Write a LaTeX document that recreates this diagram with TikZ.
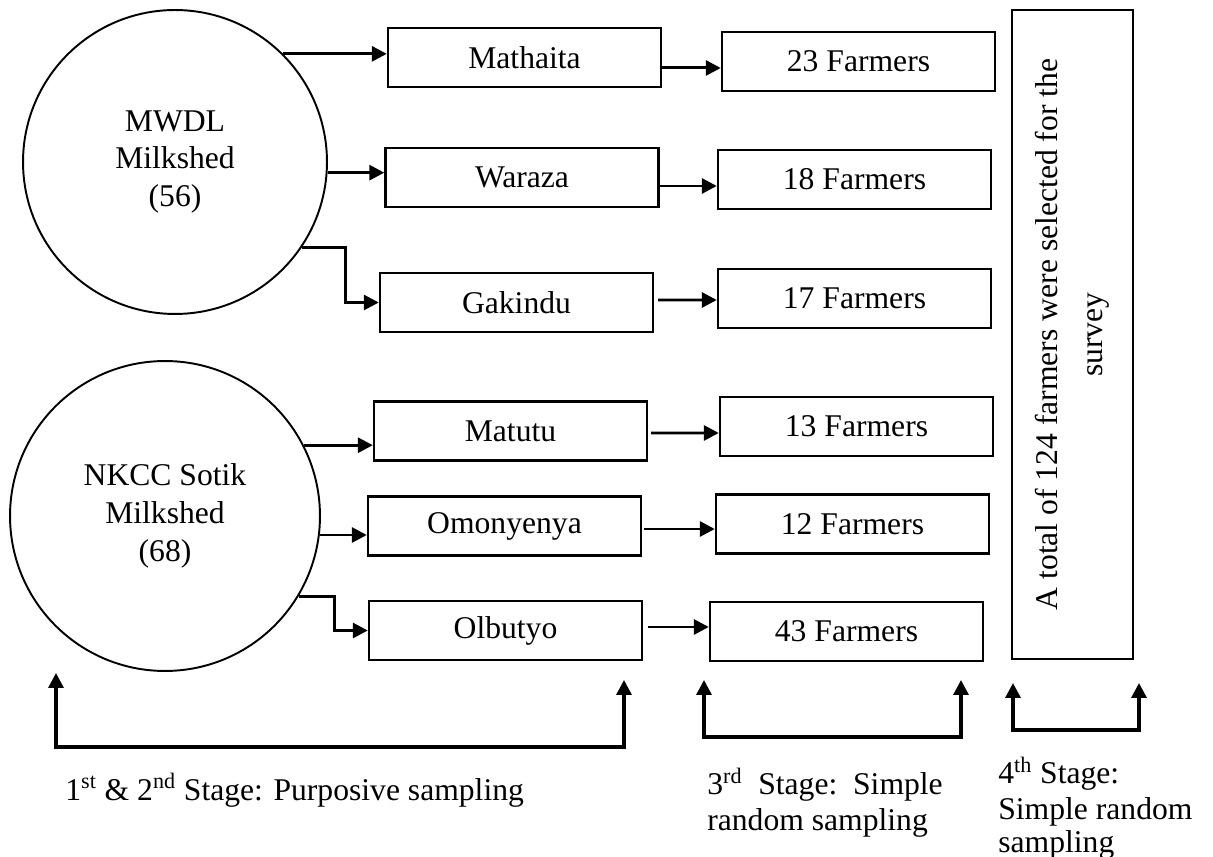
\documentclass[tikz,border=0pt]{standalone}
\usepackage{fontspec}
\setmainfont{Liberation Serif}
\usetikzlibrary{positioning,arrows.meta,calc}
\tikzset{
  shed/.style={circle, draw, line width=1.1pt, inner sep=0pt, align=center},
  site/.style={rectangle, draw, line width=1.4pt, minimum width=5.46cm,
               minimum height=1.18cm, inner sep=0pt},
  farm/.style={site},
  total/.style={site, rotate=90, minimum width=12.98cm, minimum height=2.42cm,
                align=center},
  arr/.style={-{Triangle[length=3mm, width=3mm]}, line width=1.7pt},
  brk/.style={{Triangle[length=3mm, width=3mm]}-{Triangle[length=3mm, width=3mm]},
              line width=1.9pt},
  stage/.style={anchor=base west, align=left, inner sep=0pt}
}

\begin{document}
\begin{tikzpicture}[x=0.02cm, y=-0.02cm, font=\fontsize{18}{21.6}\selectfont]
\useasboundingbox (0,0) rectangle (1213,857);

% milksheds
\node[shed, minimum size=6.08cm] (m1) at (175,162) {MWDL\\Milkshed\\(56)};
\node[shed, minimum size=6.2cm] (m2) at (165,516) {NKCC Sotik\\Milkshed\\(68)};

% collection centres
\node[site] (ma) at (524.5,57.5) {Mathaita};
\node[site] (wa) at (522,177.5) {Waraza};
\node[site] (ga) at (516.5,302.5) {Gakindu};
\node[site] (mt) at (510.5,431) {Matutu};
\node[site] (om) at (504.5,526) {Omonyenya};
\node[site] (ob) at (505.5,630.5) {Olbutyo};

% farmers
\node[farm] (f23) at (858.5,61.5) {23 Farmers};
\node[farm] (f18) at (854.5,179.5) {18 Farmers};
\node[farm] (f17) at (854.5,298.5) {17 Farmers};
\node[farm] (f13) at (856.5,426.5) {13 Farmers};
\node[farm] (f12) at (852.5,524) {12 Farmers};
\node[farm] (f43) at (846.5,631.5) {43 Farmers};

\node[total] (tot) at (1072.5,334.5) {A total of 124 farmers were selected for the\\[4pt]survey};

% milkshed -> centre
\draw[arr] (m1.45) -- (m1.45 -| ma.west);
\draw[arr] (m1.-4) -- (m1.-4 -| wa.west);
\draw[arr] (m1.-34) -- ++(44,0) |- (ga.west);
\draw[arr] (m2.27) -- (m2.27 -| mt.west);
\draw[arr] (m2.-7) -- (m2.-7 -| om.west);
\draw[arr] (m2.-31) -- ++(36,0) |- (ob.west);

% centre -> farmers
\draw[arr] ($(ma.east)+(0,10.5)$) -- ($(f23.west)+(0,6.5)$);
\draw[arr] ($(wa.east)+(0,8.5)$) -- ($(f18.west)+(0,6.5)$);
\draw[arr] ($(ga.east)+(4,-2.5)$) -- ($(f17.west)+(0,1.5)$);
\draw[arr] ($(mt.east)+(3,2)$) -- ($(f13.west)+(0,6.5)$);
\draw[arr] ($(om.east)+(2,3)$) -- ($(f12.west)+(0,5)$);
\draw[arr] ($(ob.east)+(5,-3.5)$) -- ($(f43.west)+(0,-4.5)$);

% stage brackets
\coordinate (s1l) at (56,673);
\coordinate (s1b) at (340,747);
\coordinate (s1r) at (624,680);
\coordinate (s3l) at (704,680);
\coordinate (s3b) at (830,737);
\coordinate (s3r) at (961,680);
\coordinate (s4l) at (1013,683);
\coordinate (s4b) at (1076,730);
\coordinate (s4r) at (1139,683);
\draw[brk] (s1l) |- (s1b) -| (s1r);
\draw[brk] (s3l) |- (s3b) -| (s3r);
\draw[brk] (s4l) |- (s4b) -| (s4r);

\node[stage] (l1) at (65,800) {1\textsuperscript{st} \& 2\textsuperscript{nd} Stage: Purposive sampling};
\node[stage] (l3) at (707,830) {3\textsuperscript{rd}\ \ Stage:\ \ Simple\\[-1.5pt]random sampling};
\node[stage] (l4) at (998,852) {4\textsuperscript{th} Stage:\\[-1pt]Simple random\\[-3pt]sampling};
\end{tikzpicture}
\end{document}
